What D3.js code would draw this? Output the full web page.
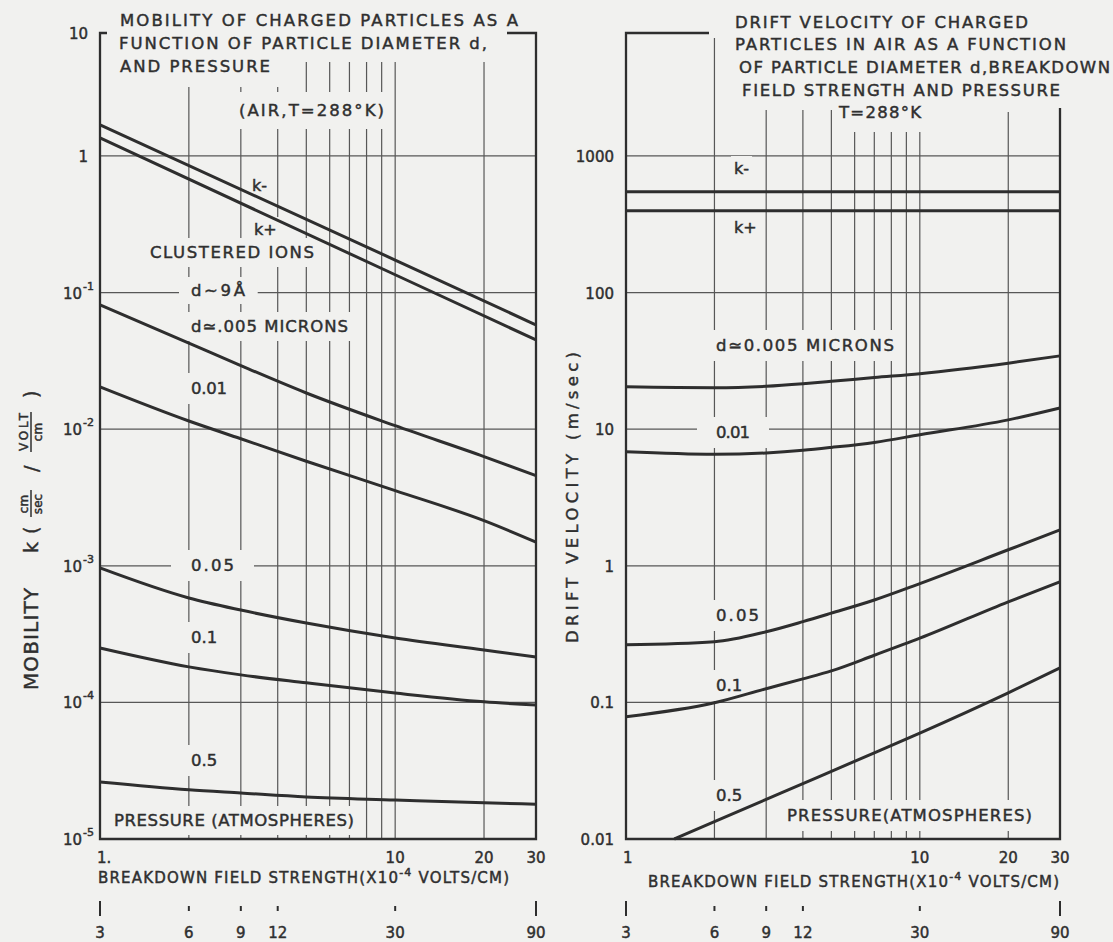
<!DOCTYPE html>
<html>
<head>
<meta charset="utf-8">
<script src="https://cdn.jsdelivr.net/npm/d3@7"></script>
<style>
body { margin: 0; background: #f1f1ef; }
text { font-family: "DejaVu Sans", sans-serif; fill: #2f2f2f; stroke: #2f2f2f; stroke-width: 0.45px; }
</style>
</head>
<body>
<script>
// ---- data ----
// field strength (x 10^4 V/cm) grids used for the curves
const ionField = [1, 10, 30];
const leftField = [1, 2, 3, 5, 10, 20, 30];
const rightField = [1, 2, 3, 4, 5, 7, 10, 20, 30];
const rightField05 = [1.46, 2, 3, 4, 5, 7, 10, 20, 30];

// mobility k (cm/sec / volt/cm)
const mobKMinus = [1.69, 0.173, 0.058];
const mobKPlus = [1.355, 0.135, 0.045];
const mob005 = [0.0813, 0.0427, 0.0292, 0.0184, 0.0106, 0.0063, 0.00457];
const mob01 = [0.0204, 0.01148, 0.00851, 0.00582, 0.00355, 0.00214, 0.00149];
const mobP05 = [9.64e-4, 5.81e-4, 4.74e-4, 3.81e-4, 2.96e-4, 2.42e-4, 2.15e-4];
const mobP1 = [2.50e-4, 1.82e-4, 1.59e-4, 1.39e-4, 1.17e-4, 1.01e-4, 9.57e-5];
const mobP5 = [2.61e-5, 2.29e-5, 2.17e-5, 2.03e-5, 1.93e-5, 1.84e-5, 1.80e-5];

// drift velocity (m/sec)
const velKMinus = [547, 547, 547];
const velKPlus = [397, 397, 397];
const vel005 = [20.4, 20.1, 20.6, 21.5, 22.4, 23.9, 25.5, 30.4, 34.4];
const vel01 = [6.83, 6.55, 6.70, 7.0, 7.35, 8.0, 9.1, 11.7, 14.3];
const velP05 = [0.264, 0.278, 0.329, 0.39, 0.45, 0.562, 0.741, 1.31, 1.83];
const velP1 = [0.0785, 0.0993, 0.126, 0.1486, 0.170, 0.2213, 0.295, 0.545, 0.764];
const velP5 = [0.01, 0.0134, 0.0195, 0.0254, 0.0313, 0.0427, 0.0596, 0.1175, 0.179];

// axes
const fieldTicks = [1, 10, 20, 30];
const leftFieldLabels = ["1.", "10", "20", "30"];
const rightFieldLabels = ["1", "10", "20", "30"];
const altTicks = [3, 6, 9, 12, 30, 90];
const gridField = [2, 3, 4, 5, 6, 7, 8, 9, 10, 20];
const leftTicks = [1e-5, 1e-4, 1e-3, 1e-2, 1e-1, 1, 10];
const leftTickBase = ["10", "10", "10", "10", "10", "1", "10"];
const leftTickExp = ["-5", "-4", "-3", "-2", "-1", "", ""];
const leftGrid = [1e-4, 1e-3, 1e-2, 1e-1, 1];
const rightTicks = [0.01, 0.1, 1, 10, 100, 1000];
const rightTickLabels = ["0.01", "0.1", "1", "10", "100", "1000"];
const rightGrid = [0.1, 1, 10, 100, 1000];

// ---- drawing ----
const bg = "#f1f1ef", ink = "#2e2e2e";
const svg = d3.select("body").append("svg").attr("width", 1113).attr("height", 942);
svg.append("rect").attr("width", 1113).attr("height", 942).attr("fill", bg);

// text helper, optional background patch to cut grid lines
function lbl(g, str, x, y, o = {}) {
    const t = g.append("text").attr("x", x).attr("y", y)
        .attr("text-anchor", o.anchor || "start")
        .style("font-size", (o.size || 15) + "px");
    if (o.len) t.attr("textLength", o.len).attr("lengthAdjust", "spacing");
    t.text(str);
    if (o.bg) {
        const b = t.node().getBBox();
        g.insert("rect", () => t.node())
            .attr("x", b.x - o.bg[0]).attr("y", b.y - o.bg[1])
            .attr("width", b.width + 2 * o.bg[0]).attr("height", b.height + 2 * o.bg[1])
            .attr("fill", bg).attr("stroke", "none");
    }
    return t;
}

const xL = d3.scaleLog().domain([1, 30]).range([100, 536]);
const xR = d3.scaleLog().domain([1, 30]).range([626, 1060]);
const xL2 = d3.scaleLog().domain([3, 90]).range([100, 536]);
const xR2 = d3.scaleLog().domain([3, 90]).range([626, 1060]);
const yL = d3.scaleLog().domain([1e-5, Math.pow(10, 0.9)]).range([839, 33]).clamp(true);
const yR = d3.scaleLog().domain([0.01, Math.pow(10, 3.9)]).range([839, 33]).clamp(true);
const bottom = 839;

const gGrid = svg.append("g").attr("stroke", "#575757").attr("stroke-width", 1.2);
const gText = svg.append("g");
const gCurve = svg.append("g").attr("fill", "none").attr("stroke", ink).attr("stroke-width", 3);
const gFrame = svg.append("g").attr("fill", "none").attr("stroke", ink).attr("stroke-width", 2.3);

// grid lines
function leftTop(e) { return e <= 4 ? 87 : 62; }
function rightTop(e) { return e === 2 ? 38 : e <= 5 ? 110 : e <= 10 ? 132 : 112; }

gGrid.append("g").selectAll("line").data(gridField).join("line")
    .attr("x1", d => xL(d)).attr("x2", d => xL(d))
    .attr("y1", d => leftTop(d)).attr("y2", bottom);
gGrid.append("g").selectAll("line").data(gridField).join("line")
    .attr("x1", d => xR(d)).attr("x2", d => xR(d))
    .attr("y1", d => rightTop(d)).attr("y2", bottom);
gGrid.append("g").selectAll("line").data(leftGrid).join("line")
    .attr("x1", 100).attr("x2", 536)
    .attr("y1", d => yL(d)).attr("y2", d => yL(d));
gGrid.append("g").selectAll("line").data(rightGrid).join("line")
    .attr("x1", 626).attr("x2", 1060)
    .attr("y1", d => yR(d)).attr("y2", d => yR(d));

// frames
gFrame.append("path").attr("d", "M107,33H100V839H536V33H507");
gFrame.append("path").attr("d", "M709,33H626V839H1060V108");

// titles
lbl(gText, "MOBILITY OF CHARGED PARTICLES AS A", 120, 26, {size: 16.5, len: 398});
lbl(gText, "FUNCTION OF PARTICLE DIAMETER d,", 119, 49, {size: 16.5, len: 368});
lbl(gText, "AND PRESSURE", 120, 72, {size: 16.5, len: 150});
lbl(gText, "(AIR,T=288°K)", 239, 116, {size: 16.5, len: 145, bg: [4, 9]});

lbl(gText, "DRIFT  VELOCITY OF CHARGED", 735, 28, {size: 16.5, len: 293});
lbl(gText, "PARTICLES IN AIR AS A FUNCTION", 735, 50, {size: 16.5, len: 331});
lbl(gText, "OF PARTICLE DIAMETER d,BREAKDOWN", 739, 73, {size: 16.5, len: 371});
lbl(gText, "FIELD STRENGTH AND PRESSURE", 742, 96, {size: 16.5, len: 318});
lbl(gText, "T=288°K", 839, 118, {size: 16.5, len: 82});

// curve labels, left
lbl(gText, "k-", 252, 191, {size: 16, bg: [3, 3]});
lbl(gText, "k+", 254, 235, {size: 16, bg: [3, 3]});
lbl(gText, "CLUSTERED IONS", 150, 258, {size: 16.5, len: 164, bg: [3, 5]});
lbl(gText, "d∼9Å", 191, 296, {size: 16.5, len: 54, bg: [12, 4]});
lbl(gText, "d≃.005 MICRONS", 191, 332, {size: 16.5, len: 157, bg: [3, 5]});
lbl(gText, "0.01", 191, 394, {size: 16.5, len: 36, bg: [3, 6]});
lbl(gText, "0.05", 191, 571, {size: 16.5, len: 43, bg: [20, 6]});
lbl(gText, "0.1", 191, 643, {size: 16.5, bg: [3, 6]});
lbl(gText, "0.5", 191, 766, {size: 16.5, bg: [3, 6]});
lbl(gText, "PRESSURE (ATMOSPHERES)", 114, 826, {size: 16.5, len: 240, bg: [3, 5]});

// curve labels, right
lbl(gText, "k-", 734, 174, {size: 16, bg: [3, 3]});
lbl(gText, "k+", 734, 233, {size: 16, bg: [3, 3]});
lbl(gText, "d≃0.005 MICRONS", 716, 351, {size: 16.5, len: 178, bg: [3, 6]});
lbl(gText, "0.01", 716, 438, {size: 16.5, len: 34, bg: [19, 6]});
lbl(gText, "0.05", 716, 621, {size: 16.5, len: 43, bg: [3, 6]});
lbl(gText, "0.1", 716, 691, {size: 16.5, bg: [3, 6]});
lbl(gText, "0.5", 716, 801, {size: 16.5, bg: [3, 6]});
lbl(gText, "PRESSURE(ATMOSPHERES)", 787, 821, {size: 16.5, len: 245, bg: [3, 6]});

// y tick labels
leftTicks.forEach((v, i) => {
    const y = yL(v);
    const exp = leftTickExp[i];
    lbl(gText, leftTickBase[i], exp ? 82 : 88, y + 6, {size: 15, anchor: "end"});
    if (exp) lbl(gText, exp, 83, y - 3, {size: 11});
});
rightTicks.forEach((v, i) => {
    lbl(gText, rightTickLabels[i], 614, yR(v) + 6, {size: 15, anchor: "end"});
});

// bottom axes
function bottomAxis(x, x2, labels, titleX, titleY) {
    fieldTicks.forEach((v, i) => {
        const a = i === 0 ? "start" : "middle";
        lbl(gText, labels[i], x(v) - (i === 0 ? 3 : 0), 863, {size: 15, anchor: a});
    });
    const t = gText.append("text").attr("x", titleX).attr("y", titleY)
        .style("font-size", "15px").attr("textLength", 411).attr("lengthAdjust", "spacing");
    t.append("tspan").text("BREAKDOWN FIELD STRENGTH(X10");
    t.append("tspan").attr("dy", -7).style("font-size", "11px").text("-4");
    t.append("tspan").attr("dy", 7).text(" VOLTS/CM)");
    altTicks.forEach((v, i) => {
        const end = i === 0 || i === altTicks.length - 1;
        gFrame.append("line").attr("stroke-width", 2)
            .attr("x1", x2(v)).attr("x2", x2(v))
            .attr("y1", end ? 901 : 906).attr("y2", end ? 916 : 911);
        lbl(gText, String(v), x2(v), 938, {size: 15, anchor: "middle"});
    });
}
bottomAxis(xL, xL2, leftFieldLabels, 98, 883);
bottomAxis(xR, xR2, rightFieldLabels, 648, 887);

// axis titles
const yt = svg.append("g").attr("transform", "translate(38,690) rotate(-90)");
lbl(yt, "MOBILITY", 0, 0, {size: 20, len: 102});
lbl(yt, "k", 137, 0, {size: 19});
lbl(yt, "(", 156, 0, {size: 19});
lbl(yt, "cm", 186, -10, {size: 12, anchor: "middle"});
lbl(yt, "sec", 186, 4, {size: 12, anchor: "middle"});
lbl(yt, "/", 218, 0, {size: 19});
lbl(yt, "VOLT", 258, -10, {size: 12, anchor: "middle", len: 38});
lbl(yt, "cm", 258, 4, {size: 12, anchor: "middle"});
lbl(yt, ")", 292, 0, {size: 19});
yt.append("line").attr("x1", 173).attr("x2", 200).attr("y1", -7).attr("y2", -7)
    .attr("stroke", ink).attr("stroke-width", 1.5);
yt.append("line").attr("x1", 238).attr("x2", 278).attr("y1", -7).attr("y2", -7)
    .attr("stroke", ink).attr("stroke-width", 1.5);

const yt2 = svg.append("g").attr("transform", "translate(578,643) rotate(-90)");
lbl(yt2, "DRIFT  VELOCITY  (m/sec)", 0, 0, {size: 16.5, len: 291});

// curves
function curve(x, y, xs, vs) {
    const pts = xs.map((e, i) => [e, vs[i]]);
    gCurve.append("path")
        .attr("d", d3.line().x(d => x(d[0])).y(d => y(d[1])).curve(d3.curveMonotoneX)(pts));
}
curve(xL, yL, ionField, mobKMinus);
curve(xL, yL, ionField, mobKPlus);
curve(xL, yL, leftField, mob005);
curve(xL, yL, leftField, mob01);
curve(xL, yL, leftField, mobP05);
curve(xL, yL, leftField, mobP1);
curve(xL, yL, leftField, mobP5);

curve(xR, yR, ionField, velKMinus);
curve(xR, yR, ionField, velKPlus);
curve(xR, yR, rightField, vel005);
curve(xR, yR, rightField, vel01);
curve(xR, yR, rightField, velP05);
curve(xR, yR, rightField, velP1);
curve(xR, yR, rightField05, velP5);
</script>
</body>
</html>
